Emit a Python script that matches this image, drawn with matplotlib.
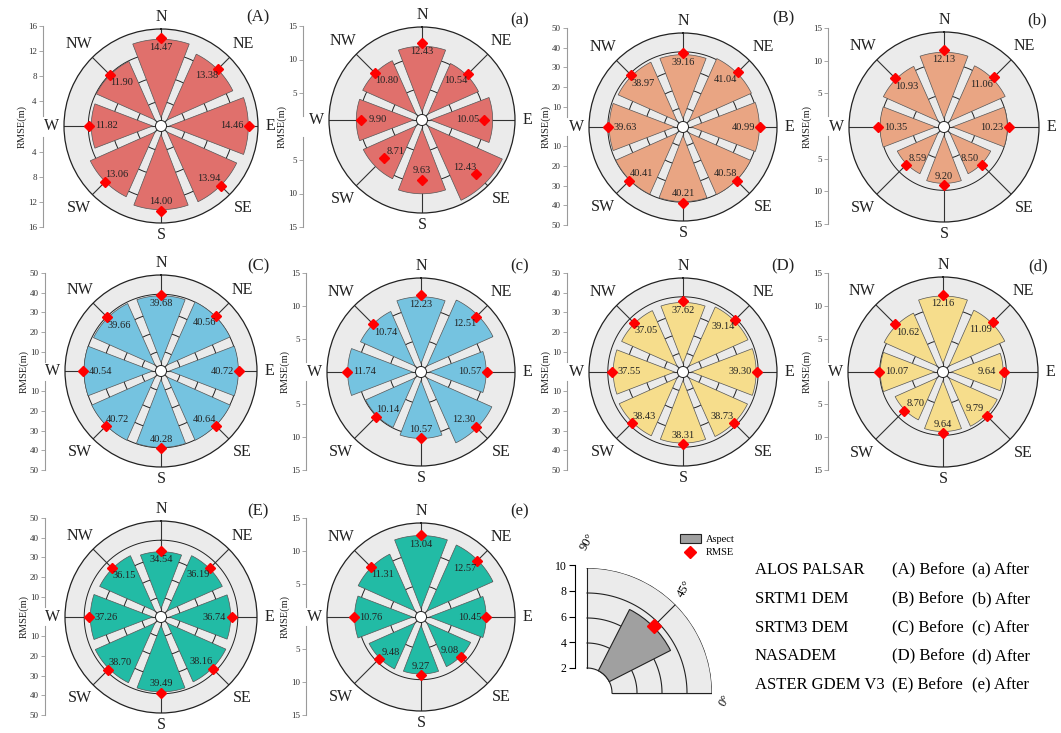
import numpy as np
import matplotlib
matplotlib.use("Agg")
import matplotlib.pyplot as plt
from matplotlib.patches import Patch
from matplotlib.lines import Line2D

plt.rcParams["font.family"] = ["Liberation Serif", "DejaVu Serif"]

W, H = 1061, 733

directions = ["N", "NE", "E", "SE", "S", "SW", "W", "NW"]

# RMSE (m) of each aspect class, before / after correction
rmse_A = [14.47, 13.38, 14.46, 13.94, 14.00, 13.06, 11.82, 11.90]
rmse_a = [12.43, 10.54, 10.05, 12.43, 9.63, 8.71, 9.90, 10.80]
rmse_B = [39.16, 41.04, 40.99, 40.58, 40.21, 40.41, 39.63, 38.97]
rmse_b = [12.13, 11.06, 10.23, 8.50, 9.20, 8.59, 10.35, 10.93]
rmse_C = [39.68, 40.56, 40.72, 40.64, 40.28, 40.72, 40.54, 39.66]
rmse_c = [12.23, 12.51, 10.57, 12.30, 10.57, 10.14, 11.74, 10.74]
rmse_D = [37.62, 39.14, 39.30, 38.73, 38.31, 38.43, 37.55, 37.05]
rmse_d = [12.16, 11.09, 9.64, 9.79, 9.64, 8.70, 10.07, 10.62]
rmse_E = [34.54, 36.19, 36.74, 38.16, 39.49, 38.70, 37.26, 36.15]
rmse_e = [13.04, 12.57, 10.45, 9.08, 9.27, 9.48, 10.76, 11.31]

# aspect bar lengths
aspect_A = [14.3, 13.2, 14.4, 13.9, 13.8, 13.0, 11.5, 11.9]
aspect_a = [11.9, 10.2, 11.4, 14.4, 11.9, 10.6, 10.6, 10.7]
aspect_B = [38.5, 40.6, 40.6, 40.1, 39.7, 39.9, 39.2, 38.5]
aspect_b = [11.8, 10.8, 10.0, 8.3, 8.9, 8.3, 10.1, 10.7]
aspect_C = [39.2, 40.1, 40.3, 40.2, 39.8, 40.2, 40.1, 39.2]
aspect_c = [12.0, 12.8, 10.4, 12.6, 10.6, 9.9, 11.7, 10.8]
aspect_D = [37.0, 38.6, 38.9, 38.3, 37.8, 37.9, 37.1, 36.5]
aspect_d = [12.0, 10.9, 9.5, 9.6, 9.4, 8.5, 9.9, 10.4]
aspect_E = [34.0, 35.7, 36.3, 37.7, 39.0, 38.2, 36.8, 35.7]
aspect_e = [13.0, 12.8, 10.4, 8.9, 9.1, 9.3, 10.6, 11.2]

ticks_16 = [4, 8, 12, 16]
ticks_15 = [5, 10, 15]
ticks_50 = [10, 20, 30, 40, 50]

dem_names = ["ALOS PALSAR", "SRTM1 DEM", "SRTM3 DEM", "NASADEM", "ASTER GDEM V3"]
before_labels = ["(A) Before", "(B) Before", "(C) Before", "(D) Before", "(E) Before"]
after_labels = ["(a) After", "(b) After", "(c) After", "(d) After", "(e) After"]

red = "#E0706C"
orange = "#E9A583"
blue = "#75C3E0"
yellow = "#F6DD8C"
teal = "#22BBA5"

# label, rmse, aspect, colour, ticks, centre (px), radius (px), scale axis x, scale top/bottom, tag pos
panels = [
    ("(A)", rmse_A, aspect_A, red, ticks_16, (161, 126), 97, 43, 26, 227, (258, 17)),
    ("(a)", rmse_a, aspect_a, red, ticks_15, (422, 120), 93, 303, 26, 227, (520, 20)),
    ("(B)", rmse_B, aspect_B, orange, ticks_50, (683, 127), 94, 567, 28, 225, (783, 18)),
    ("(b)", rmse_b, aspect_b, orange, ticks_15, (944, 127), 95, 828, 28, 224, (1037, 20)),
    ("(C)", rmse_C, aspect_C, blue, ticks_50, (161, 371), 96, 45, 273, 470, (258, 266)),
    ("(c)", rmse_c, aspect_c, blue, ticks_15, (421, 372), 94, 306, 273, 470, (520, 266)),
    ("(D)", rmse_D, aspect_D, yellow, ticks_50, (683, 372), 94, 567, 273, 470, (783, 266)),
    ("(d)", rmse_d, aspect_d, yellow, ticks_15, (943, 372), 95, 828, 273, 470, (1038, 266)),
    ("(E)", rmse_E, aspect_E, teal, ticks_50, (161, 617), 96, 45, 518, 715, (258, 511)),
    ("(e)", rmse_e, aspect_e, teal, ticks_15, (421, 617), 94, 306, 518, 715, (520, 511)),
]

label_offsets = {"N": (0, -9), "NE": (-12, -7), "E": (-17, 0), "SE": (-12, 7),
                 "S": (0, 9), "SW": (12, 7), "W": (17, 0), "NW": (12, -8)}

theta = np.deg2rad(np.arange(0, 360, 45))
full = np.linspace(0, 2 * np.pi, 361)
HALF = np.deg2rad(21.0)


def fig_rect(x0, y0, w, h):
    # pixel box measured from the top-left corner -> figure fraction
    return [x0 / W, 1 - (y0 + h) / H, w / W, h / H]


def sector_bar(ax, th_c, value, d, **kw):
    # sector of half-angle HALF, its sides pulled in by a parallel strip of width d
    s0 = d / np.tan(HALF)
    s1 = np.sqrt(max(value ** 2 - d ** 2, s0 ** 2))
    s = np.linspace(s0, s1, 40)
    r_edge = np.sqrt(s ** 2 + d ** 2)
    a_edge = HALF - np.arctan(d / s)
    a_top = a_edge[-1]
    arc = np.linspace(a_top, -a_top, 60)
    ang = np.concatenate([a_edge, arc, -a_edge[::-1]])
    rad = np.concatenate([r_edge, np.full_like(arc, value), r_edge[::-1]])
    ax.fill(th_c + ang, rad, **kw)


def draw_rose(fig, rmse, aspect, color, ticks, center, r_px):
    rmax = ticks[-1]
    cx, cy = center
    ax = fig.add_axes(fig_rect(cx - r_px, cy - r_px, 2 * r_px, 2 * r_px), projection="polar")
    ax.set_theta_zero_location("N")
    ax.set_theta_direction(-1)
    ax.set_ylim(0, rmax)
    ax.set_facecolor("#EBEBEB")
    ax.set_xticks([])
    ax.set_yticks([])
    ax.grid(False)
    ax.spines["polar"].set_color("#222222")
    ax.spines["polar"].set_linewidth(0.9)

    for t in ticks[:-1]:
        ax.plot(full, np.full_like(full, t), color="#222222", lw=0.7, zorder=1)
    for th in theta:
        ax.plot([th, th], [0, rmax], color="#333333", lw=0.8, zorder=1)

    px = rmax / r_px
    for th, v in zip(theta, aspect):
        sector_bar(ax, th, v, 3.0 * px, facecolor=color, edgecolor="#555555",
                   linewidth=0.5, zorder=2)
    hole = 5.5 * px
    ax.fill(full, np.full_like(full, hole), facecolor="white", edgecolor="#222222",
            lw=0.7, zorder=3)
    ax.plot(theta, rmse, "D", color="red", ms=4.6, zorder=4, clip_on=False)

    for th, v, d in zip(theta, rmse, directions):
        ax.annotate(f"{v:.2f}", (th, v), xytext=label_offsets[d], textcoords="offset pixels",
                    ha="center", va="center", fontsize=7.5, color="#222222", zorder=5)
        extra = 12 if len(d) == 1 else 19
        ax.text(th, rmax * (1 + extra / r_px), d, ha="center", va="center",
                fontsize=11.5, color="#222222")
    return ax


def draw_scale(fig, x, top, bottom, ticks):
    rmax = ticks[-1]
    mid = (top + bottom) / 2
    for y0, y1, flip in [(top, mid, False), (mid, bottom, True)]:
        a = fig.add_axes(fig_rect(x, y0, 1, y1 - y0))
        a.set_ylim((rmax, 0) if flip else (0, rmax))
        a.patch.set_visible(False)
        for s in ["top", "right", "bottom"]:
            a.spines[s].set_visible(False)
        a.spines["left"].set_color("#9a9a9a")
        a.spines["left"].set_linewidth(0.8)
        a.spines["left"].set_bounds(0.1 * rmax, rmax)
        a.set_xticks([])
        a.set_yticks(ticks)
        a.set_yticklabels([str(t) for t in ticks])
        a.tick_params(axis="y", length=3, width=0.6, color="#9a9a9a", labelsize=6.5,
                      labelcolor="#333333", pad=1.5)
    fig.text((x - 21) / W, 1 - mid / H, "RMSE(m)", rotation=90, ha="center", va="center",
             fontsize=7.5, color="#222222")


fig = plt.figure(figsize=(W / 100, H / 100), dpi=100)

for tag, rmse, aspect, color, ticks, center, r_px, ax_x, ax_top, ax_bot, tag_pos in panels:
    draw_rose(fig, rmse, aspect, color, ticks, center, r_px)
    draw_scale(fig, ax_x, ax_top, ax_bot, ticks)
    fig.text(tag_pos[0] / W, 1 - tag_pos[1] / H, tag, ha="center", va="center",
             fontsize=12, color="#222222")

# key: one quarter sector explaining the symbols
ox, oy, R = 587, 693, 125
key = fig.add_axes(fig_rect(ox - R, oy - R, 2 * R, 2 * R), projection="polar")
key.set_ylim(0, 10)
key.axis("off")
q = np.linspace(0, np.pi / 2, 100)
key.fill_between(q, 2, 10, color="#EBEBEB", zorder=0)
for rr in [2, 4, 6, 8, 10]:
    key.plot(q, np.full_like(q, rr), color="#222222", lw=0.8, zorder=1)
for th in [0, np.pi / 4, np.pi / 2]:
    key.plot([th, th], [2, 10], color="#222222", lw=0.8, zorder=1)
key.bar(np.pi / 4, 5.5, width=np.deg2rad(36), bottom=2, color="#A0A0A0",
        edgecolor="#222222", linewidth=0.8, zorder=2)
key.plot(np.pi / 4, 7.6, "D", color="red", ms=7.5, zorder=3)
key.text(np.deg2rad(-3), 11.0, "0°", rotation=60, ha="center", va="center", fontsize=9)
key.text(np.deg2rad(47), 11.4, "45°", rotation=60, ha="center", va="center", fontsize=9)
key.text(np.deg2rad(90), 12.1, "90°", rotation=60, ha="center", va="center", fontsize=9)

ks = fig.add_axes(fig_rect(575, 565, 1, 103))
ks.set_ylim(2, 10)
ks.patch.set_visible(False)
for s in ["top", "right", "bottom"]:
    ks.spines[s].set_visible(False)
ks.spines["left"].set_linewidth(0.8)
ks.set_xticks([])
ks.set_yticks([2, 4, 6, 8, 10])
ks.tick_params(axis="y", length=4, width=0.8, labelsize=8.5, pad=2)

handles = [Patch(facecolor="#A0A0A0", edgecolor="#222222", linewidth=0.8),
           Line2D([], [], marker="D", color="red", linestyle="none", markersize=6)]
fig.legend(handles, ["Aspect", "RMSE"], loc="upper left",
           bbox_to_anchor=(680 / W, 1 - 534 / H), frameon=False, fontsize=7.5,
           handlelength=2.0, handleheight=0.9, handletextpad=0.5, labelspacing=0.35,
           borderpad=0, borderaxespad=0)

rows_y = [570, 599, 628, 656, 685]
for y, name, b, a in zip(rows_y, dem_names, before_labels, after_labels):
    fig.text(755 / W, 1 - y / H, name, ha="left", va="center", fontsize=12)
    fig.text(892 / W, 1 - y / H, b, ha="left", va="center", fontsize=12)
    fig.text(972 / W, 1 - y / H, a, ha="left", va="center", fontsize=12)

fig.savefig("out.png", dpi=100)
